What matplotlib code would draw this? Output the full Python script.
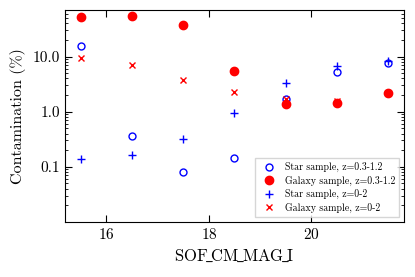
import matplotlib
matplotlib.use('Agg')
import matplotlib.pyplot as plt
import matplotlib.ticker as ticker

plt.rcParams['font.family'] = ['cmr10', 'DejaVu Serif']
plt.rcParams['mathtext.fontset'] = 'cm'
plt.rcParams['axes.formatter.use_mathtext'] = True

# --------DATA--------
mag = [15.5, 16.5, 17.5, 18.5, 19.5, 20.5, 21.5]
star_03_12 = [15.8, 0.356, 0.079, 0.142, 1.72, 5.2, 7.7]
gal_03_12 = [52.0, 53.5, 38.0, 5.4, 1.38, 1.42, 2.15]
star_0_2 = [0.138, 0.166, 0.323, 0.93, 3.37, 6.86, 8.2]
gal_0_2 = [9.5, 7.15, 3.8, 2.31, 1.72, 1.58, 2.15]

# --------PLOT--------
fig = plt.figure(figsize=(4.15, 2.77), dpi=100)
ax = fig.add_axes([0.157, 0.199, 0.816, 0.765])

ax.plot(mag, star_03_12, 'o', mfc='none', mec='blue', ms=5, mew=1.0, ls='none',
        label='Star sample, z=0.3-1.2')
ax.plot(mag, gal_03_12, 'o', color='red', ms=6, ls='none',
        label='Galaxy sample, z=0.3-1.2')
ax.plot(mag, star_0_2, '+', color='blue', ms=6, mew=1.0, ls='none',
        label='Star sample, z=0-2')
ax.plot(mag, gal_0_2, 'x', color='red', ms=5, mew=1.0, ls='none',
        label='Galaxy sample, z=0-2')

ax.set_yscale('log')
ax.set_xlim(15.2, 21.8)
ax.set_ylim(0.01, 70)
ax.set_xticks([16, 18, 20])
ax.set_yticks([0.1, 1.0, 10.0])
ax.yaxis.set_major_formatter(ticker.FuncFormatter(lambda v, p: '%.1f' % v))
ax.yaxis.set_minor_formatter(ticker.NullFormatter())

ax.tick_params(which='both', direction='in', top=True, right=True)
ax.tick_params(which='major', length=5, labelsize=11)
ax.tick_params(which='minor', length=2.5)

ax.set_xlabel(r'$\mathrm{SOF\!\_\!CM\!\_\!MAG\!\_\!I}$', fontsize=12)
ax.set_ylabel('Contamination (%)', fontsize=11.5, labelpad=5)

ax.legend(loc='lower right', fontsize=7.1, fancybox=False, edgecolor='#cccccc',
          handlelength=2.0, handletextpad=0.6, borderpad=0.4, labelspacing=0.35,
          borderaxespad=0.5)

fig.savefig('out.png', dpi=100)
